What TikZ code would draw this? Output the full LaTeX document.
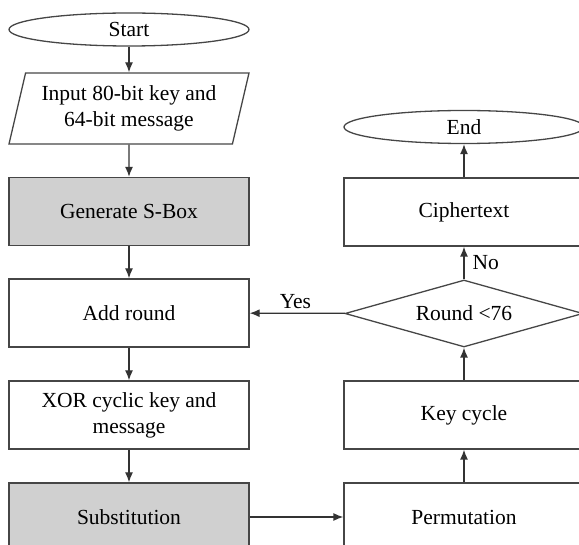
\documentclass[tikz,border=0pt]{standalone}
\usepackage{fontspec}
\setmainfont{Liberation Serif}
\usetikzlibrary{arrows.meta,shapes.geometric}
\definecolor{boxgray}{RGB}{208,208,208}
\definecolor{linegray}{RGB}{70,70,70}

\begin{document}
\begin{tikzpicture}[x=1pt,y=-1pt,
	every node/.style={font=\fontsize{21.5}{26}\selectfont, align=center, inner sep=0pt},
	term/.style={draw=linegray, line width=1.3pt, ellipse, minimum width=240, minimum height=33},
	io/.style={draw=linegray, line width=1.3pt, trapezium, trapezium left angle=70, trapezium right angle=110,
		trapezium stretches body, minimum width=240, minimum height=71},
	proc/.style={draw=linegray, line width=1.3pt, rectangle, minimum width=240, minimum height=68},
	shade/.style={proc, fill=boxgray},
	test/.style={draw=linegray, line width=1.3pt, diamond, aspect=3.55, minimum width=238, minimum height=67},
	flow/.style={draw=black!80, line width=1.3pt, -{Latex[length=10pt,width=8pt]}}]
			\clip (0,0) rectangle (579,545);
			% left column
			\node[term] (start) at (129,29.5) {Start};
			\node[io] (input) at (129,108.5) {Input 80-bit key and\\64-bit message};
			\node[shade] (sbox) at (129,211.5) {Generate S-Box};
			\node[proc] (addround) at (129,313) {Add round};
			\node[proc] (xorkey) at (129,415) {XOR cyclic key and\\message};
			\node[shade] (subst) at (129,517) {Substitution};
			% right column
			\node[term] (finish) at (464,127) {End};
			\node[proc] (cipher) at (464,212) {Ciphertext};
			\node[test] (check) at (464,313.5) {Round <76};
			\node[proc] (keycyc) at (464,415) {Key cycle};
			\node[proc] (perm) at (464,517) {Permutation};
			% connectors
			\draw[flow] (start) -- (input);
			\draw[flow] (input) -- (sbox);
			\draw[flow] (sbox) -- (addround);
			\draw[flow] (addround) -- (xorkey);
			\draw[flow] (xorkey) -- (subst);
			\draw[flow] (subst) -- (perm);
			\draw[flow] (perm) -- (keycyc);
			\draw[flow] (keycyc) -- (check);
			\draw[flow] (check) -- node[above=4pt, pos=0.52]{Yes} (addround);
			\draw[flow] (check) -- node[right=8pt]{No} (cipher);
			\draw[flow] (cipher) -- (finish);
		\end{tikzpicture}
\end{document}
